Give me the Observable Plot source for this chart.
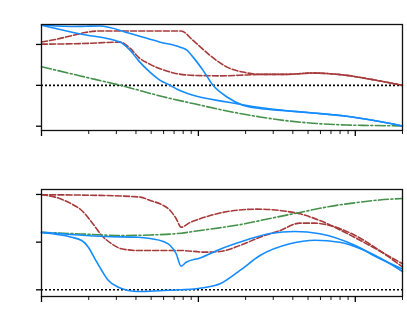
<!DOCTYPE html>
<html>
<head>
<meta charset="utf-8">
<script src="https://cdn.jsdelivr.net/npm/d3@7"></script>
<script src="https://cdn.jsdelivr.net/npm/@observablehq/plot@0.6"></script>
<style>
  html, body { margin: 0; padding: 0; background: #fff; }
  #wrap { position: relative; width: 407px; height: 326px; font-family: "DejaVu Sans", sans-serif; color: #000; }
  #top { position: absolute; left: 0; top: 0; }
  #bottom { position: absolute; left: 0; top: 160px; }
  #legend { position: absolute; left: 0; top: 168px; width: 407px; height: 12px; }
</style>
</head>
<body>
<div id="wrap">
  <div id="top"></div>
  <svg id="legend" width="407" height="12"></svg>
  <div id="bottom"></div>
</div>
<script>
// ---------- data: top panel ----------
const topRedA_x = [1, 1.227, 1.529, 1.905, 2.30, 7.76, 9.25, 11.87, 15.22, 19.24, 24.7, 35.6, 53.6, 88.2, 129, 200];
const topRedA_y = [1.061, 1.122, 1.207, 1.293, 1.329, 1.329, 1.098, 0.732, 0.446, 0.324, 0.268, 0.268, 0.300, 0.244, 0.139, 0.0];

const topRedB_x = [1, 1.77, 3.18, 3.68, 4.14, 4.93, 5.97, 7.32, 9.25, 13.74, 19.8, 24.7, 35.6, 53.6, 88.2, 129, 200];
const topRedB_y = [1.007, 1.02, 1.056, 0.902, 0.690, 0.512, 0.378, 0.285, 0.244, 0.232, 0.251, 0.268, 0.268, 0.300, 0.244, 0.139, 0.0];

const topBlueC_x = [1, 1.227, 1.551, 1.905, 2.34, 3.68, 5.71, 7.65, 8.48, 9.25, 10.71, 12.4, 15.22, 19.24, 24.7, 35.6, 53.6, 88.2, 129, 200];
const topBlueC_y = [1.480, 1.451, 1.439, 1.444, 1.451, 1.268, 1.056, 0.934, 0.854, 0.690, 0.366, 0.0, -0.285, -0.488, -0.568, -0.620, -0.676, -0.756, -0.854, -0.993];

const topBlueD_x = [1, 1.77, 3.18, 3.68, 4.14, 4.93, 5.71, 6.61, 7.32, 9.25, 15.22, 24.7, 35.6, 53.6, 88.2, 129, 200];
const topBlueD_y = [1.471, 1.256, 1.056, 0.854, 0.610, 0.317, 0.122, 0.0, -0.098, -0.244, -0.407, -0.544, -0.617, -0.676, -0.756, -0.854, -0.993];

const topGreenE_x = [1, 1.77, 3.18, 5.97, 9.25, 15.22, 24.7, 35.6, 53.6, 88.2, 129, 200];
const topGreenE_y = [0.456, 0.229, 0.0, -0.280, -0.446, -0.627, -0.773, -0.861, -0.927, -0.971, -0.983, -0.993];

// ---------- data: bottom panel ----------
const botRedF_x = [1, 2.37, 4.26, 4.93, 5.97, 6.61, 7.21, 7.76, 8.85, 10.25, 15.9, 23.6, 33.1, 44.3, 59.4, 85.6, 123.5, 200];
const botRedF_y = [0.997, 0.990, 0.972, 0.937, 0.885, 0.832, 0.748, 0.657, 0.706, 0.745, 0.825, 0.846, 0.832, 0.797, 0.727, 0.604, 0.465, 0.273];

const botRedG_x = [1, 1.222, 1.551, 1.804, 2.09, 2.42, 2.80, 3.24, 4.14, 5.97, 7.76, 11.03, 13.74, 18.4, 24.7, 33.1, 44.3, 55.2, 68.7, 100, 142.9, 200];
const botRedG_y = [0.997, 0.972, 0.902, 0.832, 0.709, 0.570, 0.483, 0.430, 0.412, 0.412, 0.412, 0.395, 0.402, 0.465, 0.552, 0.622, 0.699, 0.699, 0.675, 0.570, 0.412, 0.240];

const botGreenH_x = [1, 1.77, 3.18, 4.93, 7.76, 10.25, 19.8, 28.6, 44.3, 68.7, 100, 142.9, 200];
const botGreenH_y = [0.604, 0.586, 0.570, 0.575, 0.594, 0.622, 0.693, 0.748, 0.811, 0.874, 0.913, 0.942, 0.958];

const botBlueI_x = [1, 2.54, 4.14, 4.93, 5.97, 6.61, 7.21, 7.76, 8.35, 10.25, 13.74, 19.8, 28.6, 41.2, 59.4, 100, 142.9, 200];
const botBlueI_y = [0.604, 0.559, 0.552, 0.538, 0.507, 0.465, 0.381, 0.248, 0.289, 0.335, 0.426, 0.517, 0.591, 0.612, 0.588, 0.465, 0.328, 0.218];

const botBlueJ_x = [1, 1.551, 1.804, 1.99, 2.19, 2.42, 2.67, 3.09, 3.57, 4.14, 5.97, 7.76, 11.03, 13.74, 18.4, 24.7, 38.3, 55.2, 79.6, 114.8, 153.8, 200];
const botBlueJ_y = [0.598, 0.552, 0.517, 0.447, 0.325, 0.203, 0.098, 0.027, -0.007, -0.018, -0.007, 0.0, 0.024, 0.063, 0.203, 0.360, 0.483, 0.520, 0.499, 0.412, 0.307, 0.192];

// ---------- ticks ----------
const xMajorTicks = [1, 10, 100];
const xMinorTicks = [2, 3, 4, 5, 6, 7, 8, 9, 20, 30, 40, 50, 60, 70, 80, 90, 200];
const topYTicks = [-1, 0, 1];
const botYTicks = [0, 0.5, 1];
const xDomain = [1, 200];
const topYDomain = [-1.105, 1.488];
const botYDomain = [-0.07, 1.052];

// ---------- styles ----------
const RED = "#a63a3a", GREEN = "#44914a", BLUE = "#148cff";
const redDash = "6,2.2", greenDash = "10,2.5,2,2.5";

const zip = (xs, ys) => xs.map((x, i) => ({x, y: ys[i]}));

function panel(series, yDomain, yTicks, opts) {
  const marks = [
    Plot.ruleY([0], {stroke: "#000", strokeWidth: 1.6, strokeDasharray: "2,2"}),
    ...series.map(s => Plot.line(zip(s.x, s.y), {x: "x", y: "y", stroke: s.color, strokeWidth: 1.6, strokeDasharray: s.dash, curve: "monotone-x"})),
    Plot.frame({stroke: "#111", strokeWidth: 1.3}),
    Plot.axisX({ticks: xMajorTicks, tickSize: 6, tickFormat: () => "", label: null, strokeWidth: 1.3}),
    Plot.axisX({ticks: xMinorTicks, tickSize: 4, tickFormat: () => "", label: null, strokeWidth: 0.9}),
    Plot.axisY({ticks: yTicks, tickSize: 5, tickFormat: () => "", label: null, strokeWidth: 1.3})
  ];
  return Plot.plot({
    width: 407,
    height: opts.height,
    marginLeft: 41,
    marginRight: 5,
    marginTop: opts.marginTop,
    marginBottom: opts.marginBottom,
    x: {type: "log", domain: xDomain, axis: null},
    y: {domain: yDomain, axis: null},
    style: {background: "white", color: "#000", overflow: "visible"},
    marks
  });
}

document.getElementById("top").append(panel([
  {x: topRedA_x, y: topRedA_y, color: RED, dash: redDash},
  {x: topRedB_x, y: topRedB_y, color: RED, dash: redDash},
  {x: topGreenE_x, y: topGreenE_y, color: GREEN, dash: greenDash},
  {x: topBlueC_x, y: topBlueC_y, color: BLUE, dash: null},
  {x: topBlueD_x, y: topBlueD_y, color: BLUE, dash: null}
], topYDomain, topYTicks, {height: 140, marginTop: 24, marginBottom: 10}));

document.getElementById("bottom").append(panel([
  {x: botRedF_x, y: botRedF_y, color: RED, dash: redDash},
  {x: botRedG_x, y: botRedG_y, color: RED, dash: redDash},
  {x: botGreenH_x, y: botGreenH_y, color: GREEN, dash: greenDash},
  {x: botBlueI_x, y: botBlueI_y, color: BLUE, dash: null},
  {x: botBlueJ_x, y: botBlueJ_y, color: BLUE, dash: null}
], botYDomain, botYTicks, {height: 166, marginTop: 29, marginBottom: 30}));

// legend swatches (no labels in the reference)
const legendItems = [
  {color: RED, dash: redDash, x0: 147},
  {color: GREEN, dash: greenDash, x0: 218},
  {color: BLUE, dash: null, x0: 290}
];
const lg = d3.select("#legend");
legendItems.forEach(d => {
  lg.append("line").attr("x1", d.x0).attr("x2", d.x0 + 24).attr("y1", 6).attr("y2", 6)
    .attr("stroke", d.color).attr("stroke-width", 1.8)
    .attr("stroke-dasharray", d.dash);
});
</script>
</body>
</html>
